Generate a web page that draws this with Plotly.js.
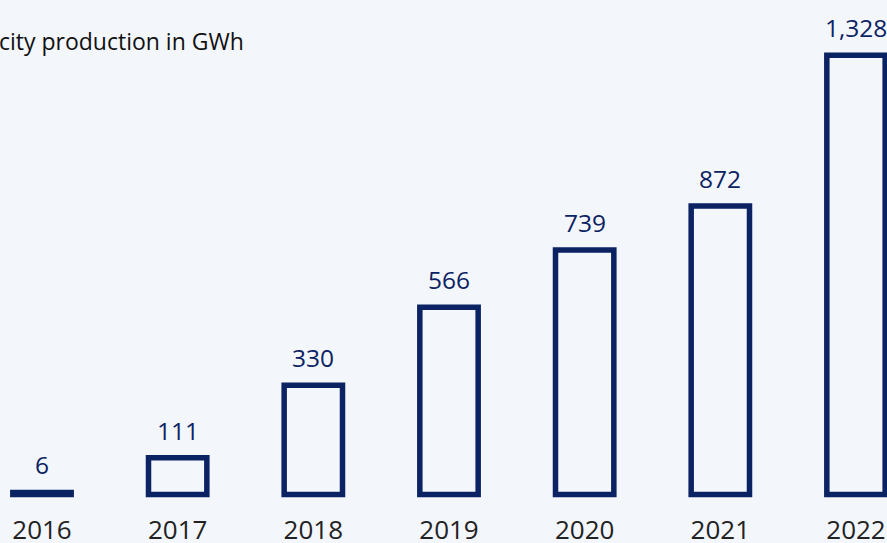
<!DOCTYPE html>
<html>
<head>
<meta charset="utf-8">
<script src="https://cdn.plot.ly/plotly-3.0.1.min.js"></script>
<style>html,body{margin:0;padding:0;background:#f3f6fb;}#chart{width:887px;height:543px;}</style>
</head>
<body>
<div id="chart"></div>
<script>
const years = ["2016", "2017", "2018", "2019", "2020", "2021", "2022"];
const production = [6, 111, 330, 566, 739, 872, 1328];
const titleText = "Electricity production in GWh";

const navy = "#0b2263";
const bg = "#f3f6fb";

const trace = {
  type: "bar",
  x: years,
  y: production,
  width: 0.43,
  marker: { color: bg, line: { color: navy, width: 5.5 } },
  hoverinfo: "none"
};

const labels = years.map((yr, i) => ({
  x: i, y: production[i], xref: "x", yref: "y",
  text: production[i].toLocaleString("en-US"),
  showarrow: false, yanchor: "bottom", yshift: 9,
  font: { family: "Open Sans", size: 24.5, color: navy }
}));

labels.push({
  xref: "paper", yref: "paper", x: 246 / 887, y: 1 - 41 / 503,
  xanchor: "right", yanchor: "middle", showarrow: false,
  text: titleText,
  font: { family: "Open Sans", size: 23, color: "#111111" }
});

const layout = {
  width: 887, height: 543,
  margin: { l: 0, r: 0, t: 0, b: 40, pad: 0 },
  paper_bgcolor: bg, plot_bgcolor: bg,
  showlegend: false,
  xaxis: {
    type: "category",
    range: [-0.3096, 6.2285],
    showgrid: false, zeroline: false, showline: false,
    ticks: "", ticklen: 0,
    ticklabelstandoff: 9,
    tickfont: { family: "Open Sans", size: 26, color: "#222222" },
    automargin: false
  },
  yaxis: {
    range: [-26, 1495],
    visible: false, showgrid: false, zeroline: false, fixedrange: true
  },
  annotations: labels
};

Plotly.newPlot("chart", [trace], layout, { staticPlot: true, displayModeBar: false });
</script>
</body>
</html>
